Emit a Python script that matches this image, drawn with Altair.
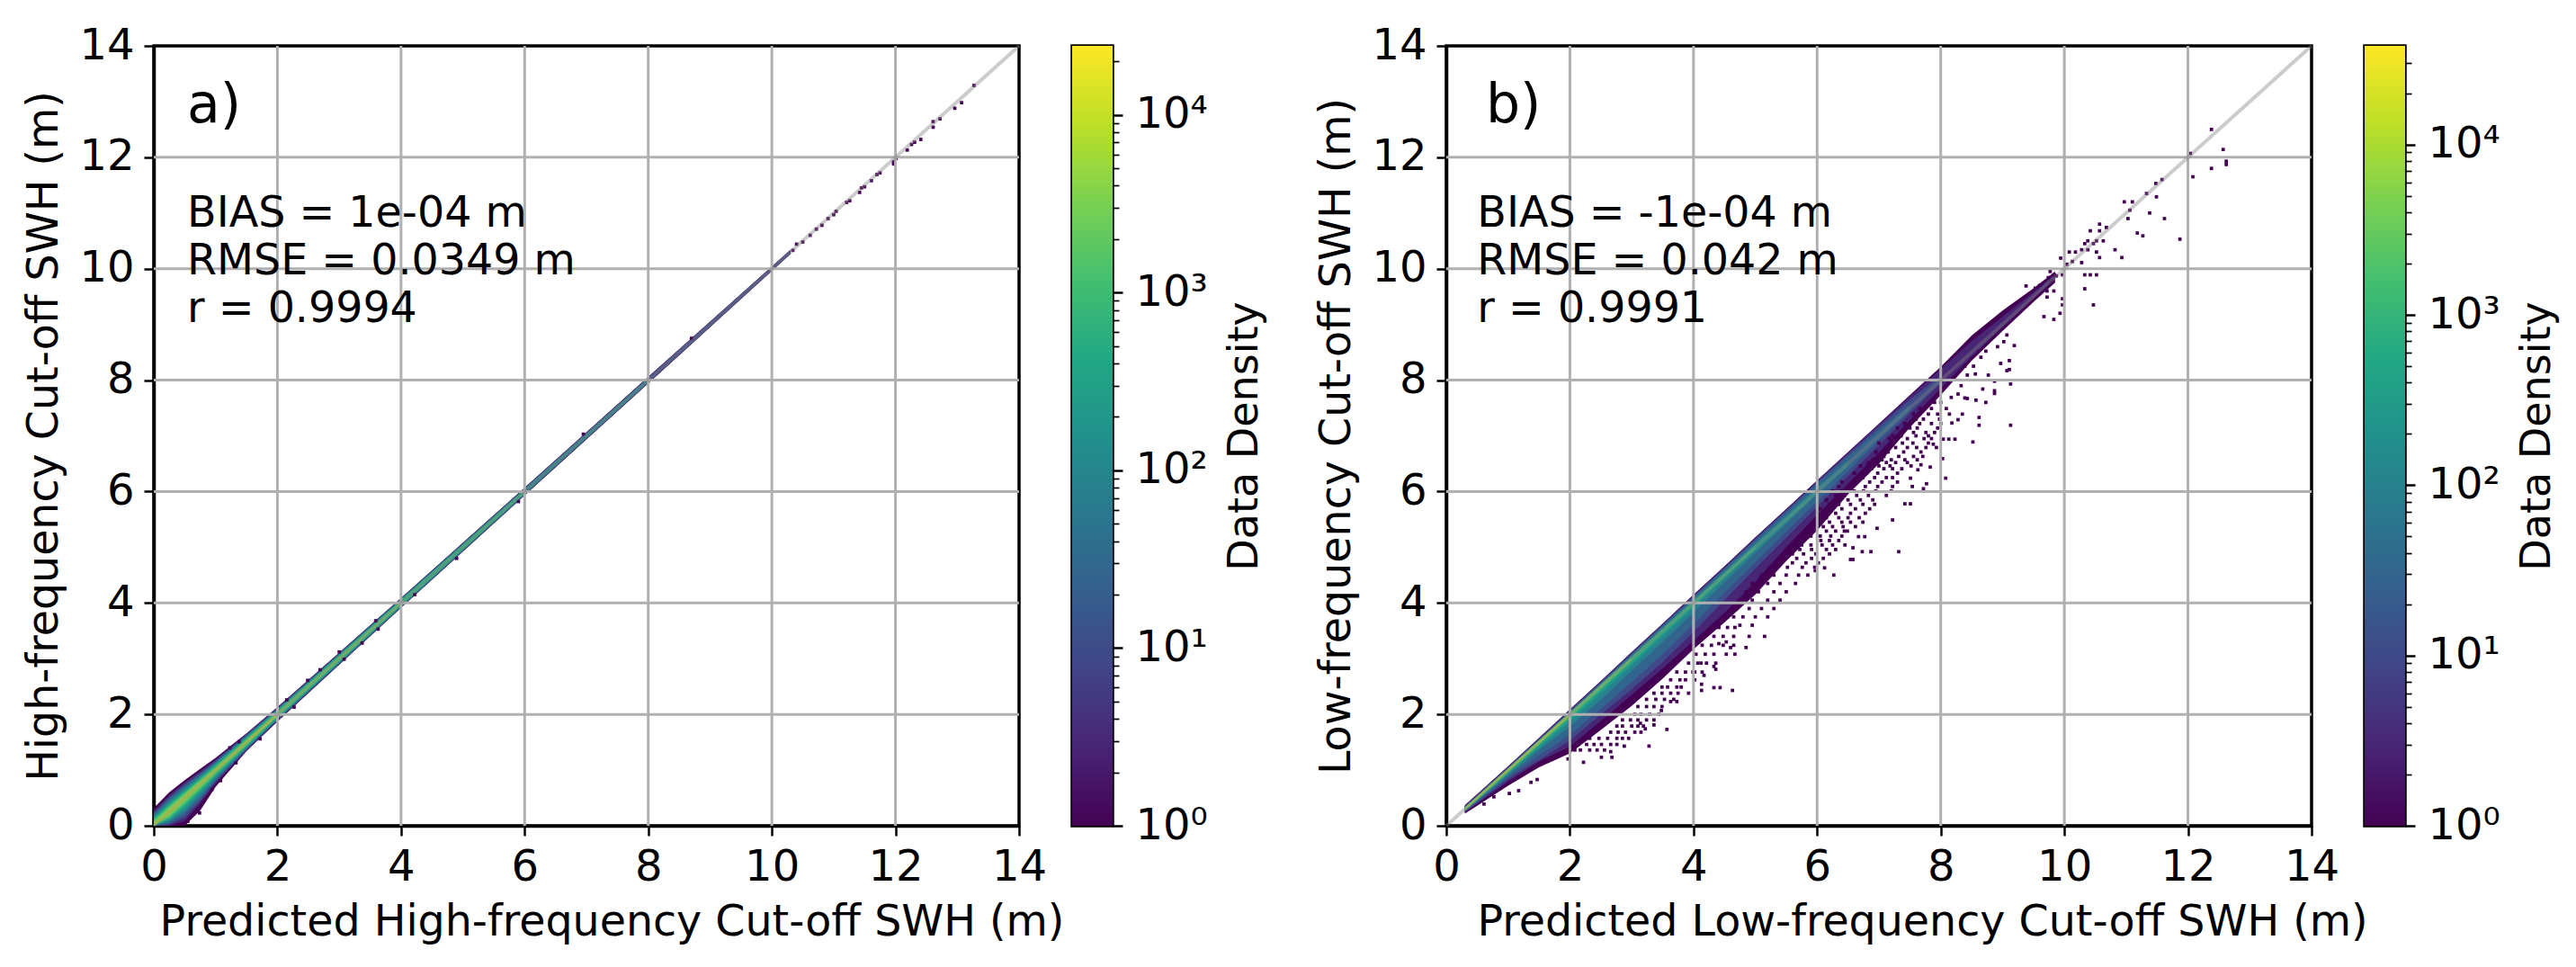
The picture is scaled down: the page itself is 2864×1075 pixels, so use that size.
import altair as alt
import pandas as pd

TICKS = [0, 2, 4, 6, 8, 10, 12, 14]
DIAG = [0, 14]
LEVELS = [1, 3, 10, 30, 100, 300, 1000, 3000, 10000]
VIRIDIS = ["#440154", "#482475", "#414487", "#355f8d", "#2a788e", "#21918c",
           "#22a884", "#44bf70", "#7ad151", "#bddf26", "#fde725"]

# Panel a: cloud half-widths above / below the 1:1 line, per density level
A_X = [0, .25, .5, .75, 1, 1.5, 2, 3, 4, 6, 8, 10.3]
A_UP = [
    [.32, .35, .32, .27, .22, .16, .13, .11, .09, .07, .06, .04],
    [.27, .30, .28, .23, .19, .15, .12, .105, .085, .065, .055, .035],
    [.24, .27, .25, .20, .17, .14, .11, .10, .08, .06, .05, .03],
    [.21, .24, .22, .18, .15, .125, .10, .09, .075, .055, .045],
    [.18, .20, .18, .15, .13, .11, .09, .08, .07, .05, .03],
    [.15, .16, .15, .12, .11, .095, .08, .07, .06, .04],
    [.12, .13, .11, .09, .08, .07, .06, .055, .045, .025],
    [.09, .09, .08, .065, .055, .05, .04, .035, .025],
    [.05, .05, .045, .04, .03, .028, .025],
]
A_DN = [
    [0, .25, .5, .48, .30, .16, .13, .11, .09, .07, .06, .04],
    [0, .25, .42, .35, .24, .15, .12, .105, .085, .065, .055, .035],
    [0, .23, .36, .31, .21, .14, .11, .10, .08, .06, .05, .03],
    [0, .21, .30, .27, .19, .125, .10, .09, .075, .055, .045],
    [0, .18, .25, .22, .16, .11, .09, .08, .07, .05, .03],
    [0, .15, .20, .17, .12, .095, .08, .07, .06, .04],
    [0, .12, .14, .12, .09, .07, .06, .055, .045, .025],
    [0, .09, .09, .08, .06, .05, .04, .035, .025],
    [0, .05, .045, .04, .03, .028, .025],
]
A_PX = [.74, .94, 1.08, 1.33, 1.72, 2.27, 1.38, 1.23, 2.15, 2.49, 2.69, 3.0, 3.08, 3.37, 3.59, 3.63, 4.22, .55,
        4.9, 5.9, 6.95, 8.7,
        10.34, 10.4, 10.5, 10.62, 10.72, 10.81, 10.91, 11.0, 11.04, 11.21, 11.26, 11.42, 11.45, 11.5, 11.61, 11.7,
        11.75, 11.97, 11.97, 12.01, 12.19, 12.26, 12.31, 12.41, 12.61, 12.61, 12.72, 12.96, 13.07, 13.27]
A_PY = [.23, .65, .81, 1.13, 1.56, 2.13, 1.51, 1.40, 2.26, 2.61, 2.80, 3.12, 2.99, 3.28, 3.68, 3.53, 4.15, .08,
        4.8, 5.82, 7.03, 8.75,
        10.33, 10.44, 10.48, 10.6, 10.71, 10.78, 10.9, 10.97, 11.03, 11.19, 11.22, 11.37, 11.45, 11.47, 11.58, 11.69,
        11.72, 11.88, 11.92, 11.98, 12.13, 12.23, 12.27, 12.32, 12.54, 12.64, 12.69, 12.88, 12.98, 13.29]

# Panel b
B_X = [.3, .5, 1, 1.5, 2, 2.5, 3, 3.5, 4, 4.5, 5, 5.5, 6, 6.5, 7, 7.5, 8, 8.5, 9, 9.5, 9.85]
B_UP = [
    [.07, .07, .07, .08, .09, .10, .12, .13, .15, .16, .18, .19, .20, .21, .22, .23, .24, .30, .25, .15, .10],
    [.06, .06, .06, .07, .08, .09, .11, .12, .14, .15, .17, .18, .19, .20, .21, .21, .20, .20, .14, .08, .05],
    [.05, .05, .05, .06, .07, .08, .10, .11, .12, .13, .15, .16, .17, .17, .17, .15, .09],
    [.04, .04, .04, .05, .05, .06, .08, .09, .10, .11, .12, .13, .14, .13, .11, .06],
    [.03, .03, .035, .04, .04, .05, .05, .06, .06, .07, .07, .07, .07, .05],
    [.03, .03, .03, .03, .035, .035, .035, .04, .04, .04, .04, .035, .03],
    [.025, .025, .025, .03, .03, .03, .03, .03, .03, .025, .02],
    [.02, .02, .02, .025, .025, .025, .02],
    [.015, .02, .02, .02, .02],
]
B_DN = [
    [.08, .14, .28, .45, .70, .78, .85, .86, .83, .85, .85, .75, .70, .55, .50, .35, .27, .15, .12, .10, .10],
    [.06, .10, .21, .35, .58, .62, .65, .68, .68, .68, .62, .50, .42, .36, .30, .22, .15, .08, .05, .03, .02],
    [.05, .09, .17, .32, .47, .50, .55, .56, .52, .45, .38, .33, .27, .22, .17, .10, .05],
    [.04, .07, .13, .24, .37, .40, .42, .42, .38, .32, .27, .22, .18, .13, .08, .04],
    [.03, .05, .09, .14, .22, .24, .22, .20, .17, .13, .10, .08, .05, .04],
    [.03, .04, .07, .10, .13, .13, .12, .10, .08, .06, .05, .04, .03],
    [.025, .03, .05, .06, .07, .065, .06, .05, .04, .035, .03],
    [.02, .025, .03, .04, .04, .035, .03],
    [.015, .02, .02, .02, .02],
]
B_PX = [12.38, 12.04, 12.57, 12.62, 12.62, 12.38, 12.08, 11.58, 11.48, 11.33, 11.49, 11.10, 10.97, 11.06, 11.03,
        11.38, 11.62, 11.87, 11.27, 11.18, 10.68, 10.57, 10.57, 10.42, 10.63, 10.52, 10.47, 10.38, 10.33, 10.82,
        10.93, 10.52, 10.57, 10.38, 10.28, 10.18, 10.08, 10.13, 10.04, 9.94, 10.28, 10.33, 10.42, 10.52, 10.33,
        10.47, 9.97, 9.97, 9.97, 9.93, 9.83, 9.67, 9.84, 9.77, 9.74, 9.87, 9.79, 9.72, 9.83, 9.72, 9.6, 9.53, 9.38,
        9.13, 8.52, 8.62, 8.62, 8.35, 8.08, 8.03, 7.77, 7.72, 7.51, 7.42, 7.32, 7.22, 6.97, 6.87, 6.73, 6.77, 6.67,
        6.58, 6.54, 6.58, 6.27, 6.12, 5.97, 8.73, 8.87, 8.87, 9.13, 8.87, 8.77, 8.68, 8.57, 8.43, 8.39, 8.33, 8.28,
        8.17, 8.18, 8.13, 8.04, 8.23, 8.28, 7.93, 7.88, 7.83, 7.68, 7.63, 7.51, 7.54,
        9.11, 9.11, 8.97, 9.07, 8.92, 9.02, 9.07, 9.19, 8.73, 8.65, 8.56, 8.43, 8.39, 8.53,
        7.9, 8.0, 7.66, 7.85, 8.09, 7.56, 7.8, 7.95, 8.14, 7.42, 7.66, 7.85, 8.0, 7.37, 7.56, 7.76, 7.9,
        7.17, 7.46, 7.73, 7.85, 7.12, 7.27, 7.46, 7.61, 7.76, 7.08, 7.32, 7.56, 7.71, 6.83, 6.98, 7.12, 7.27, 7.46,
        6.88, 7.08, 7.22, 7.37, 6.74, 6.93, 7.12, 7.22, 6.35, 6.54, 6.78, 6.98, 7.22, 6.3, 6.44, 6.64, 6.83, 7.12,
        6.2, 6.35, 6.54, 6.74, 6.93, 6.1, 6.3, 6.54, 6.78, 6.06, 6.2, 6.4, 6.54, 6.74, 6.15, 6.3, 6.44, 6.49,
        6.06, 6.2, 6.35, 5.72, 5.91, 6.15, 6.3, 5.42, 5.67, 5.91, 6.1, 5.23, 5.52, 5.76, 5.96,
        4.63, 4.43, 4.33, 4.13, 4.13, 3.92, 3.73, 3.63, 3.48, 3.57, 3.28, 3.36, 3.22, 3.14, 2.88, 2.66, 2.68, 2.51,
        2.22, 1.97, 1.17, 1.02, .77, 1.47, 1.37, .61, 4.67, 4.36, 4.33, 4.17, 4.02, 3.99, 4.12, 4.53, 4.41]
B_PY = [12.5, 12.07, 12.14, 11.93, 11.87, 11.8, 11.65, 11.6, 11.53, 11.35, 11.29, 11.2, 11.2, 11.05, 10.9,
        11.0, 10.9, 10.53, 10.59, 10.64, 10.74, 10.8, 10.68, 10.68, 10.5, 10.5, 10.45, 10.5, 10.45, 10.34,
        10.2, 10.3, 10.2, 10.34, 10.34, 10.3, 10.3, 10.13, 10.08, 10.19, 10.11, 9.89, 9.89, 9.89, 9.64,
        9.35, 9.89, 9.46, 9.35, 9.2, 9.09, 9.14, 9.89, 9.95, 9.84, 9.87, 9.76, 9.6, 9.6, 9.49, 9.7, 9.65, 9.69,
        7.19, 6.89, 7.33, 7.19, 7.39, 6.24, 6.59, 6.14, 6.05, 5.78, 5.78, 4.92, 5.49, 5.34, 4.92, 4.92, 5.19, 5.19,
        4.99, 4.78, 4.78, 4.5, 4.63, 4.58, 7.6, 7.76, 7.81, 7.93, 7.98, 8.09, 7.84, 7.64, 7.67, 7.68, 7.9, 7.75,
        7.69, 7.23, 6.94, 6.94, 6.94, 7.29, 6.79, 6.85, 6.44, 6.48, 6.39, 6.24, 6.09,
        8.35, 8.19, 8.3, 8.17, 8.6, 8.69, 8.81, 8.62, 8.52, 8.41, 8.11, 8.09, 8.25, 8.25,
        7.6, 7.6, 7.49, 7.49, 7.49, 7.39, 7.39, 7.39, 7.39, 7.22, 7.22, 7.22, 7.22, 7.06, 7.06, 7.06, 7.06,
        6.95, 6.95, 6.95, 6.95, 6.79, 6.79, 6.79, 6.79, 6.79, 6.63, 6.63, 6.63, 6.63, 6.52, 6.52, 6.52, 6.52, 6.52,
        6.41, 6.41, 6.41, 6.41, 6.25, 6.25, 6.25, 6.25, 6.09, 6.09, 6.09, 6.09, 6.09, 5.93, 5.93, 5.93, 5.93, 5.93,
        5.77, 5.77, 5.77, 5.77, 5.77, 5.61, 5.61, 5.61, 5.61, 5.45, 5.45, 5.45, 5.45, 5.45, 5.29, 5.29, 5.29, 5.29,
        5.12, 5.12, 5.12, 4.96, 4.96, 4.96, 4.96, 4.8, 4.8, 4.8, 4.8, 4.64, 4.64, 4.64, 4.64,
        2.43, 2.48, 2.48, 2.54, 2.43, 2.38, 2.23, 2.23, 2.07, 1.73, 1.43, 1.81, 1.74, 1.84, 1.43, 1.33, 1.23, 1.23,
        1.14, 1.2, .63, .58, .52, .83, .78, .39, 3.08, 2.81, 2.86, 2.7, 2.62, 2.76, 2.92, 3.3, 3.27]
# Speckle rows below the solid part of the cloud in panel b: one y, several x
B_ROW_Y = [1.36, 1.46, 1.57, 1.68, 1.79, 1.9, 2.0, 2.14, 2.27, 2.38, 2.49, 2.62, 2.76, 2.92, 3.08, 3.24, 3.4, 3.56,
           3.75, 4.5, 4.35, 4.2, 4.05, 3.9, 3.75, 3.6, 3.4, 3.2,
           7.3, 7.14, 7.0, 6.87, 6.71, 6.57, 6.46, 6.33, 6.17, 6.01, 5.85, 5.69, 5.53, 5.37, 5.2, 5.04, 4.88, 4.72]
B_ROW_X = [
    [2.08, 2.17, 2.32, 2.44, 2.56], [2.13, 2.27, 2.39, 2.51, 2.66, 2.76], [2.32, 2.47, 2.61, 2.76, 2.85, 2.95],
    [2.66, 2.78, 2.9, 3.05, 3.15], [2.76, 2.85, 3.0, 3.1, 3.19], [2.85, 2.98, 3.1, 3.24, 3.36],
    [3.05, 3.15, 3.29, 3.44], [3.1, 3.24, 3.36, 3.49], [3.24, 3.39, 3.53, 3.68], [3.36, 3.49, 3.63, 3.75],
    [3.49, 3.58, 3.73, 3.8], [3.63, 3.78, 3.87], [3.73, 3.87, 4.02, 4.14], [3.92, 4.07, 4.21, 4.36],
    [4.04, 4.19, 4.33, 4.53], [4.14, 4.29, 4.48, 4.65], [4.33, 4.48, 4.65], [4.41, 4.55, 4.67], [4.55, 4.65],
    [5.1, 5.3, 5.5, 5.7, 5.85], [4.95, 5.2, 5.4, 5.65], [4.85, 5.05, 5.3, 5.5], [4.75, 4.95, 5.2, 5.4],
    [4.7, 4.9, 5.1, 5.3], [4.8, 5.0, 5.2], [4.75, 4.95], [4.9, 5.15], [4.6, 4.85],
    [7.6, 7.72, 7.98], [7.3, 7.5, 7.62, 7.95], [7.22, 7.36, 7.6, 7.8], [7.0, 7.2, 7.38, 7.55, 7.8],
    [6.95, 7.15, 7.4, 7.68], [6.9, 7.05, 7.2, 7.42, 7.62], [6.7, 6.82, 7.0, 7.18, 7.52], [6.6, 6.8, 6.98, 7.3],
    [6.4, 6.6, 6.85, 7.05, 7.3], [6.25, 6.4, 6.6, 6.75, 6.95, 7.2], [6.15, 6.3, 6.5, 6.7, 6.9],
    [6.05, 6.22, 6.4, 6.62, 6.85], [6.0, 6.15, 6.35, 6.5, 6.68], [5.95, 6.1, 6.25, 6.42, 6.62],
    [5.9, 6.05, 6.22, 6.4], [5.75, 5.9, 6.08, 6.25, 6.45], [5.6, 5.78, 5.98, 6.2], [5.4, 5.6, 5.82, 6.02],
]

# Colorbars
A_TOP = 24500
B_TOP = 38000
A_MINOR = [2, 3, 4, 5, 6, 7, 8, 9, 20, 30, 40, 50, 60, 70, 80, 90, 200, 300, 400, 500, 600, 700, 800, 900,
           2000, 3000, 4000, 5000, 6000, 7000, 8000, 9000, 20000]
B_MINOR = A_MINOR + [30000]
MAJOR = [1, 10, 100, 1000, 10000]
MAJOR_TEXT = ["10⁰", "10¹", "10²", "10³", "10⁴"]

FONT = "DejaVu Sans"
LABEL = 48
TITLE = 47.5
NOTE = 47.5
PW, PH = 962, 867


def panel(xs, ups, dns, px, py, top, xtitle, ytitle, notes, title_x):
    xsc = alt.Scale(domain=[0, 14], nice=False)
    ysc = alt.Scale(domain=[0, 14], nice=False)
    csc = alt.Scale(type="log", scheme="viridis", domain=[1, top])
    common = dict(values=TICKS, format="d", grid=False, domainColor="black", domainWidth=3.5,
                  tickColor="black", tickWidth=2.5, tickSize=11, labelFont=FONT, labelFontSize=LABEL,
                  labelColor="black", titleFont=FONT, titleFontWeight="normal", titleColor="black",
                  titleFontSize=TITLE, labelPadding=11, labelFlush=False, labelOverlap=False)
    xax = alt.Axis(title=xtitle, titlePadding=13, titleX=title_x, **common)
    yax = alt.Axis(title=ytitle, titlePadding=14, **common)

    def X(f):
        return alt.X(f, scale=xsc, axis=xax)

    def Y(f):
        return alt.Y(f, scale=ysc, axis=yax)

    layers = []
    for lev, u, d in zip(LEVELS, ups, dns):
        n = len(u)
        df = pd.DataFrame({
            "x": xs[:n],
            "lo": [max(0, x - v) for x, v in zip(xs[:n], d)],
            "hi": [x + v for x, v in zip(xs[:n], u)],
            "level": [lev] * n,
        })
        layers.append(alt.Chart(df).mark_area(clip=True, strokeWidth=0).encode(
            x=X("x:Q"), y=Y("lo:Q"), y2="hi:Q",
            color=alt.Color("level:Q", scale=csc, legend=None),
        ))
    pts = pd.DataFrame({"px": px, "py": py, "level": [1] * len(px)})
    layers.append(alt.Chart(pts).mark_square(size=14, opacity=1, clip=True).encode(
        x=X("px:Q"), y=Y("py:Q"),
        color=alt.Color("level:Q", scale=csc, legend=None),
    ))
    grid = pd.DataFrame({"t": TICKS[1:-1]})
    layers.append(alt.Chart(grid).mark_rule(color="#b0b0b0", strokeWidth=3).encode(x=X("t:Q")))
    layers.append(alt.Chart(grid).mark_rule(color="#b0b0b0", strokeWidth=3).encode(y=Y("t:Q")))
    diag = pd.DataFrame({"dx": DIAG, "dy": DIAG})
    layers.append(alt.Chart(diag).mark_line(color="gray", opacity=0.4, strokeWidth=4).encode(
        x=X("dx:Q"), y=Y("dy:Q")))
    for nx, ny, txt, size in notes:
        nd = pd.DataFrame({"nx": [nx], "ny": [ny], "txt": [txt]})
        layers.append(alt.Chart(nd).mark_text(align="left", baseline="middle", font=FONT,
                                              fontSize=size, color="black").encode(
            x=X("nx:Q"), y=Y("ny:Q"), text="txt:N"))
    return alt.layer(*layers).properties(width=PW, height=PH)


def cbar(top, minor):
    label_expr = "{" + ",".join(f"'{v}':'{t}'" for v, t in zip(MAJOR, MAJOR_TEXT)) + "}[datum.value] || ''"
    test = "datum.value==1||datum.value==10||datum.value==100||datum.value==1000||datum.value==10000"
    grad = alt.LinearGradient(
        gradient="linear", x1=0, x2=0, y1=1, y2=0,
        stops=[alt.GradientStop(offset=i / (len(VIRIDIS) - 1), color=c) for i, c in enumerate(VIRIDIS)],
    )
    df = pd.DataFrame({"lo": [1], "hi": [top]})
    return alt.Chart(df).mark_rect(color=grad).encode(
        x=alt.value(0), x2=alt.value(45),
        y=alt.Y("lo:Q", scale=alt.Scale(type="log", domain=[1, top], nice=False),
                axis=alt.Axis(orient="right", values=MAJOR + minor, labelExpr=label_expr, grid=False,
                              title="Data Density", titleAngle=270, titleBaseline="top", titleFont=FONT,
                              titleFontWeight="normal", titleFontSize=46, titleColor="black", titlePadding=19,
                              labelFont=FONT, labelFontSize=LABEL, labelColor="black", labelPadding=14,
                              labelOverlap=False, labelFlush=False, domain=False, tickColor="black",
                              tickSize={"condition": {"test": test, "value": 11}, "value": 7},
                              tickWidth={"condition": {"test": test, "value": 2.5}, "value": 1.7})),
        y2="hi:Q",
    ).properties(width=45, height=PH)


A_NOTES = [(.54, 12.92, "a)", 60), (.54, 10.98, "BIAS = 1e-04 m", NOTE),
           (.54, 10.13, "RMSE = 0.0349 m", NOTE), (.54, 9.27, "r = 0.9994", NOTE)]
B_NOTES = [(.64, 12.92, "b)", 60), (.5, 10.98, "BIAS = -1e-04 m", NOTE),
           (.5, 10.13, "RMSE = 0.042 m", NOTE), (.5, 9.27, "r = 0.9991", NOTE)]

b_px = B_PX + [x for row in B_ROW_X for x in row]
b_py = B_PY + [y for y, row in zip(B_ROW_Y, B_ROW_X) for _ in row]

a = panel(A_X, A_UP, A_DN, A_PX, A_PY, A_TOP, "Predicted High-frequency Cut-off SWH (m)",
          "High-frequency Cut-off SWH (m)", A_NOTES, 509)
b = panel(B_X, B_UP, B_DN, b_px, b_py, B_TOP, "Predicted Low-frequency Cut-off SWH (m)",
          "Low-frequency Cut-off SWH (m)", B_NOTES, 529)

left = alt.hconcat(a, cbar(A_TOP, A_MINOR), spacing=59, bounds="flush")
right = alt.hconcat(b, cbar(B_TOP, B_MINOR), spacing=59, bounds="flush")
chart = alt.hconcat(left, right, spacing=52).properties(
    padding={"left": 16, "top": 17, "right": 5, "bottom": 5}
).configure_view(stroke="black", strokeWidth=3.5)

chart.save("out.html", embed_options={"renderer": "svg", "actions": False})
